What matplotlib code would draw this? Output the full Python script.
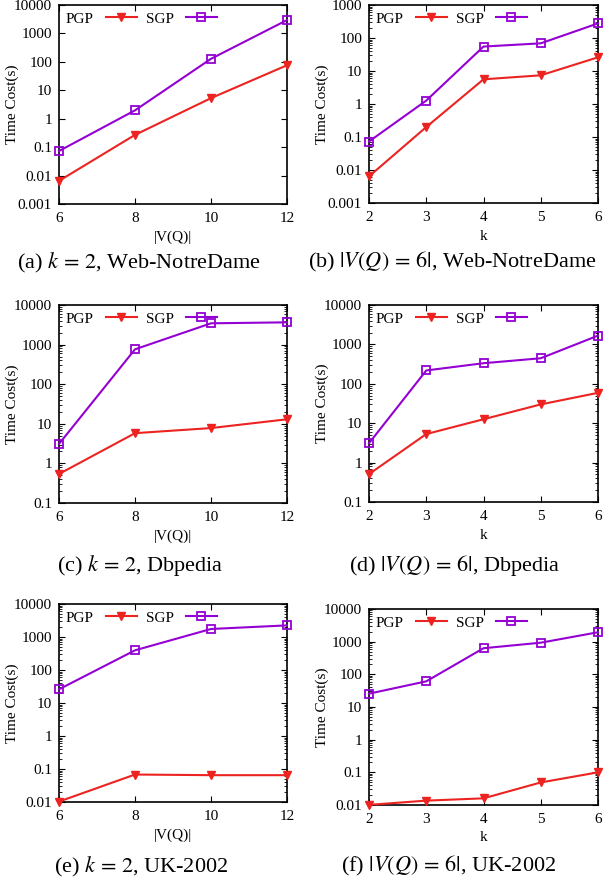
import numpy as np
import matplotlib
matplotlib.use("Agg")
import matplotlib.pyplot as plt

plt.rcParams['font.family'] = ['Liberation Serif', 'DejaVu Serif']
plt.rcParams['mathtext.fontset'] = 'stix'

#%%
"DATA READ OFF THE PAPER FIGURE"

vq = [6, 8, 10, 12]
ks = [2, 3, 4, 5, 6]

# (a) k = 2, Web-NotreDame
pgp_a = [0.0065, 0.27, 5.3, 76]
sgp_a = [0.073, 1.97, 128, 2950]
# (b) |V(Q)| = 6, Web-NotreDame
pgp_b = [0.0064, 0.2, 5.6, 7.4, 26]
sgp_b = [0.073, 1.27, 55, 69, 277]
# (c) k = 2, Dbpedia
pgp_c = [0.54, 5.8, 7.8, 13]
sgp_c = [3.1, 760, 3450, 3650]
# (d) |V(Q)| = 6, Dbpedia
pgp_d = [0.51, 5.3, 12.6, 30, 59]
sgp_d = [3.1, 218, 333, 445, 1670]
# (e) k = 2, UK-2002
pgp_e = [0.0103, 0.068, 0.065, 0.065]
sgp_e = [26, 395, 1750, 2250]
# (f) |V(Q)| = 6, UK-2002
pgp_f = [0.0101, 0.0136, 0.016, 0.049, 0.1]
sgp_f = [25.6, 61, 630, 930, 1940]

captions = ["(a) $k\\,=\\,2$, Web-NotreDame",
            "(b) $|V(Q)\\,=\\,6|$, Web-NotreDame",
            "(c) $k\\,=\\,2$, Dbpedia",
            "(d) $|V(Q)\\,=\\,6|$, Dbpedia",
            "(e) $k\\,=\\,2$, UK-2002",
            "(f) $|V(Q)\\,=\\,6|$, UK-2002"]

#%%
"LAYOUT"

W, H = 603, 883
red = '#ec2320'
purple = '#9400d3'

# pixel boxes: left, top, right, bottom
boxes = [(59, 5, 287, 204), (369, 5, 598, 203),
         (59, 305, 287, 503), (369, 305, 598, 502),
         (59, 604, 287, 802), (369, 609, 598, 805)]
panels = [(vq, pgp_a, sgp_a, (1e-3, 1e4), "|V(Q)|"),
          (ks, pgp_b, sgp_b, (1e-3, 1e3), "k"),
          (vq, pgp_c, sgp_c, (1e-1, 1e4), "|V(Q)|"),
          (ks, pgp_d, sgp_d, (1e-1, 1e4), "k"),
          (vq, pgp_e, sgp_e, (1e-2, 1e4), "|V(Q)|"),
          (ks, pgp_f, sgp_f, (1e-2, 1e4), "k")]
cap_pos = [(139, 263), (452, 262), (140, 565), (455, 565), (141, 867), (449, 866)]

fig = plt.figure(figsize=(W / 100, H / 100), dpi=100)

for i in range(6):
    l, t, r, b = boxes[i]
    ax = fig.add_axes([l / W, 1 - b / H, (r - l) / W, (b - t) / H])
    xs, pgp, sgp, ylim, xlab = panels[i]
    ax.plot(xs, pgp, color=red, lw=1.5, marker='v', ms=6, label="PGP",
            clip_on=False, zorder=3)
    ax.plot(xs, sgp, color=purple, lw=1.5, marker='s', ms=6,
            mfc='none', mew=1.3, label="SGP", clip_on=False, zorder=3)
    ax.set_yscale("log")
    ax.set_ylim(ylim)
    ax.set_xlim(xs[0], xs[-1])
    ax.set_xticks(xs)
    dec = np.arange(np.log10(ylim[0]), np.log10(ylim[1]) + 1)
    ax.set_yticks(10.0 ** dec)
    ax.set_yticklabels(["%g" % v for v in 10.0 ** dec])
    ax.yaxis.set_minor_locator(
        matplotlib.ticker.LogLocator(base=10, subs=np.arange(2, 10)))
    ax.yaxis.set_minor_formatter(matplotlib.ticker.NullFormatter())
    ax.tick_params(direction='in', top=True, right=True, length=4,
                   width=0.8, labelsize=11)
    ax.tick_params(which='minor', direction='in', right=True, length=2,
                   width=0.6)
    ax.tick_params(axis='x', pad=5.5)
    ax.tick_params(axis='y', pad=5)
    for sp in ax.spines.values():
        sp.set_linewidth(1.2)
    ax.set_ylabel("Time Cost(s)", fontsize=11)
    ax.yaxis.set_label_coords(-0.175, 0.5)
    ax.set_xlabel(xlab, fontsize=11)
    ax.xaxis.set_label_coords(0.5, -0.135)
    ax.legend(loc="upper left", ncol=2, frameon=False, markerfirst=False,
              fontsize=11, handlelength=2.0, handletextpad=0.8,
              columnspacing=0.6, borderaxespad=0.15, borderpad=0.3)
    cx, cy = cap_pos[i]
    fig.text(cx / W, 1 - cy / H, captions[i], ha='center', va='center',
             fontsize=16)

fig.savefig("out.png", dpi=100)
